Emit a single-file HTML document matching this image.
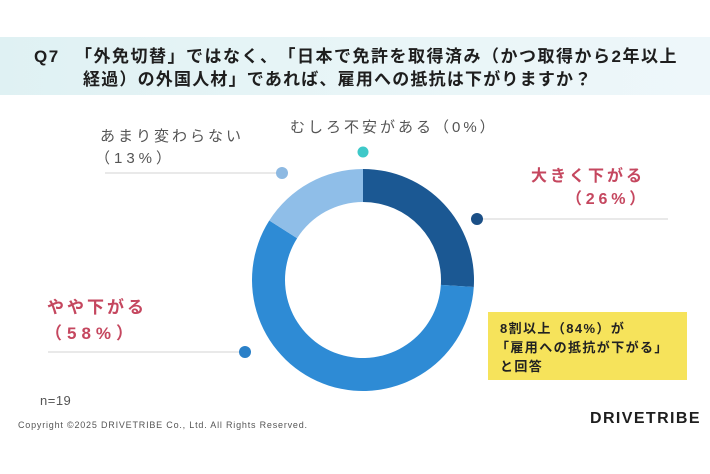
<!DOCTYPE html>
<html><head><meta charset="utf-8">
<style>
html,body{margin:0;padding:0;background:#fff;}
#wrap{position:relative;width:710px;height:474px;overflow:hidden;background:#fff;font-family:"Liberation Sans","Noto Sans CJK JP",sans-serif;text-spacing-trim:space-all;}
.t{position:absolute;white-space:nowrap;text-spacing-trim:space-all;}
.band{position:absolute;left:0;top:37px;width:710px;height:58px;background:linear-gradient(90deg,#dff1f3 0%,#e8f5f7 50%,#eef7fa 100%);}
.q{font-weight:bold;font-size:17px;color:#1e1e1e;letter-spacing:1.5px;line-height:22px;}
.g{font-size:15px;color:#555;letter-spacing:3px;line-height:20px;}
.r{font-size:16px;color:#c5475f;letter-spacing:3px;line-height:20px;font-weight:bold;}
.y{font-size:13px;color:#222;font-weight:bold;letter-spacing:1.4px;line-height:19px;}
</style></head>
<body><div id="wrap">
<div class="band"></div>
<div class="t q" style="left:34px;top:46px;">Q7</div>
<div class="t q" style="left:75px;top:46px;">「外免切替」ではなく、「日本で免許を取得済み（かつ取得から2年以上</div>
<div class="t q" style="left:83px;top:69px;letter-spacing:1.2px;">経過）の外国人材」であれば、雇用への抵抗は下がりますか？</div>

<svg style="position:absolute;left:0;top:0" width="710" height="474" viewBox="0 0 710 474">
  <line x1="105" y1="173" x2="282" y2="173" stroke="#e2e2e2" stroke-width="1.5"/>
  <line x1="477" y1="219" x2="668" y2="219" stroke="#e2e2e2" stroke-width="1.5"/>
  <line x1="48" y1="352" x2="245" y2="352" stroke="#e2e2e2" stroke-width="1.5"/>
  <path d="M363,169 A111,111 0 0 1 473.78,286.97 L440.85,284.90 A78,78 0 0 0 363,202 Z" fill="#1b5893"/>
  <path d="M473.78,286.97 A111,111 0 1 1 269.28,220.52 L297.14,238.21 A78,78 0 1 0 440.85,284.90 Z" fill="#2e8bd5"/>
  <path d="M269.28,220.52 A111,111 0 0 1 363,169 L363,202 A78,78 0 0 0 297.14,238.21 Z" fill="#8fbee8"/>
  <circle cx="282" cy="173" r="6" fill="#8db9e2"/>
  <circle cx="363" cy="152" r="5.5" fill="#3ec9c9"/>
  <circle cx="477" cy="219" r="6" fill="#1b4f86"/>
  <circle cx="245" cy="352" r="6" fill="#2a80c8"/>
  <rect x="488" y="312" width="199" height="68" fill="#f6e35b"/>
</svg>

<div class="t g" style="left:290px;top:118px;">むしろ不安がある（0%）</div>
<div class="t g" style="left:100px;top:127px;">あまり変わらない</div>
<div class="t g" style="left:95px;top:149px;letter-spacing:4px;">（13%）</div>
<div class="t r" style="left:531px;top:167px;">大きく下がる</div>
<div class="t r" style="left:566px;top:190px;letter-spacing:3.8px;">（26%）</div>
<div class="t r" style="left:47px;top:298px;font-size:17px;">やや下がる</div>
<div class="t r" style="left:45px;top:324px;font-size:17px;letter-spacing:5px;">（58%）</div>

<div class="t y" style="left:500px;top:319px;">8割以上（84%）が</div>
<div class="t y" style="left:496px;top:338px;">「雇用への抵抗が下がる」</div>
<div class="t y" style="left:500px;top:357px;">と回答</div>

<div class="t" style="left:40px;top:394px;font-size:13px;color:#555;letter-spacing:0.5px;line-height:14px;">n=19</div>
<div class="t" style="left:18px;top:419px;font-size:9px;color:#555;letter-spacing:0.8px;line-height:12px;">Copyright ©2025 DRIVETRIBE Co., Ltd. All Rights Reserved.</div>
<div class="t" style="left:590px;top:410px;font-size:16px;font-weight:bold;color:#1e1e1e;letter-spacing:1.4px;line-height:18px;">DRIVETRIBE</div>
</div></body></html>
